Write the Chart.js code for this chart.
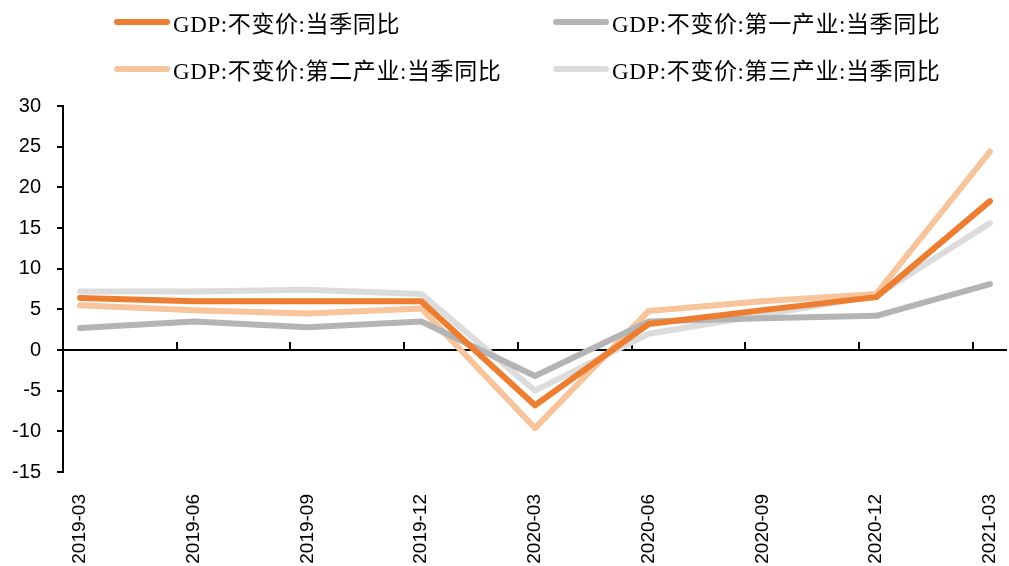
<!DOCTYPE html>
<html>
<head>
<meta charset="utf-8">
<script src="https://cdn.jsdelivr.net/npm/chart.js@4/dist/chart.umd.min.js"></script>
<style>
  body { margin: 0; background: #fff; }
  #wrap { position: relative; width: 1009px; height: 566px; }
  #gdpChart { position: absolute; left: 0; top: 0; }
  #gdpLegend {
    position: absolute; left: 0; top: 0; width: 1009px; height: 96px;
    font-family: "Liberation Serif", "Noto Sans CJK SC", serif;
    font-size: 23px; letter-spacing: 0.6px; color: #000;
  }
  .legend-item { position: absolute; height: 30px; display: flex; align-items: center; white-space: nowrap; }
  .legend-swatch { width: 56px; height: 6px; border-radius: 3px; margin-right: 3px; }
</style>
</head>
<body>
<div id="wrap">
  <canvas id="gdpChart" width="1009" height="566"></canvas>
  <div id="gdpLegend"></div>
</div>
<script>
const quarters = ['2019-03', '2019-06', '2019-09', '2019-12', '2020-03', '2020-06', '2020-09', '2020-12', '2021-03'];
const gdpTotal = [6.4, 6.0, 6.0, 6.0, -6.8, 3.2, 4.9, 6.5, 18.3];
const gdpPrimary = [2.7, 3.5, 2.8, 3.5, -3.2, 3.5, 3.9, 4.2, 8.1];
const gdpSecondary = [5.5, 4.9, 4.5, 5.1, -9.6, 4.8, 6.0, 6.9, 24.4];
const gdpTertiary = [7.2, 7.2, 7.4, 6.9, -5.0, 2.0, 4.3, 6.7, 15.6];

const seriesNames = ['GDP:不变价:当季同比', 'GDP:不变价:第一产业:当季同比', 'GDP:不变价:第二产业:当季同比', 'GDP:不变价:第三产业:当季同比'];
const seriesColors = ['#ED7D31', '#B4B4B4', '#F8C49C', '#DCDCDC'];
const seriesValues = [gdpTotal, gdpPrimary, gdpSecondary, gdpTertiary];

const yMin = -15, yMax = 30, yStep = 5;
// space between the y axis and the first/last quarter, in category units
const edgePad = 0.15;

// legend in two columns above the plot
const legendSpots = [[114, 7], [553, 7], [114, 54], [553, 54]];
let legendHtml = '';
seriesNames.forEach((name, i) => {
  legendHtml += `<div class="legend-item" style="left:${legendSpots[i][0]}px;top:${legendSpots[i][1]}px;">` +
    `<div class="legend-swatch" style="background:${seriesColors[i]};"></div>${name}</div>`;
});
document.getElementById('gdpLegend').innerHTML = legendHtml;

// small upward ticks on the zero line, just left of each quarter
const zeroTicks = {
  id: 'zeroTicks',
  beforeDatasetsDraw(chart) {
    const x = chart.scales.x, y = chart.scales.y;
    const ctx = chart.ctx;
    const y0 = y.getPixelForValue(0);
    ctx.save();
    ctx.strokeStyle = '#000';
    ctx.lineWidth = 2;
    ctx.beginPath();
    for (let i = 1; i < quarters.length; i++) {
      const px = Math.round(x.getPixelForValue(i - edgePad));
      ctx.moveTo(px, y0);
      ctx.lineTo(px, y0 - 8);
    }
    ctx.stroke();
    ctx.restore();
  }
};

const datasets = seriesNames.map((name, i) => ({
  label: name,
  data: seriesValues[i].map((v, k) => ({ x: k, y: v })),
  borderColor: seriesColors[i],
  backgroundColor: seriesColors[i],
  borderWidth: 6,
  borderCapStyle: 'round',
  borderJoinStyle: 'round',
  pointRadius: 0,
  tension: 0,
  order: i
}));

new Chart(document.getElementById('gdpChart'), {
  type: 'line',
  data: { datasets: datasets },
  plugins: [zeroTicks],
  options: {
    responsive: false,
    animation: false,
    devicePixelRatio: 1,
    layout: { padding: { top: 106, right: 2, left: 0, bottom: 0 } },
    plugins: { legend: { display: false }, tooltip: { enabled: false } },
    scales: {
      x: {
        type: 'linear',
        min: -edgePad,
        max: quarters.length - 1 + edgePad,
        afterBuildTicks: scale => { scale.ticks = quarters.map((q, i) => ({ value: i })); },
        afterFit: scale => {
          scale.height = 94;
          scale.paddingLeft = 0;
          scale.paddingRight = 0;
        },
        grid: { display: false },
        border: { display: false },
        ticks: {
          callback: v => quarters[v],
          minRotation: 90,
          maxRotation: 90,
          padding: 14,
          color: '#000',
          font: { family: '"Liberation Sans", Arial, sans-serif', size: 19 }
        }
      },
      y: {
        min: yMin,
        max: yMax,
        afterFit: scale => { scale.width = 63; },
        ticks: {
          stepSize: yStep,
          padding: 16,
          color: '#000',
          font: { family: '"Liberation Sans", Arial, sans-serif', size: 20 }
        },
        grid: {
          color: c => (c.tick && c.tick.value === 0) ? '#000' : 'rgba(0,0,0,0)',
          tickColor: '#000',
          lineWidth: 2,
          tickLength: 6,
          tickWidth: 2
        },
        border: { display: true, color: '#000', width: 2 }
      }
    }
  }
});
</script>
</body>
</html>
